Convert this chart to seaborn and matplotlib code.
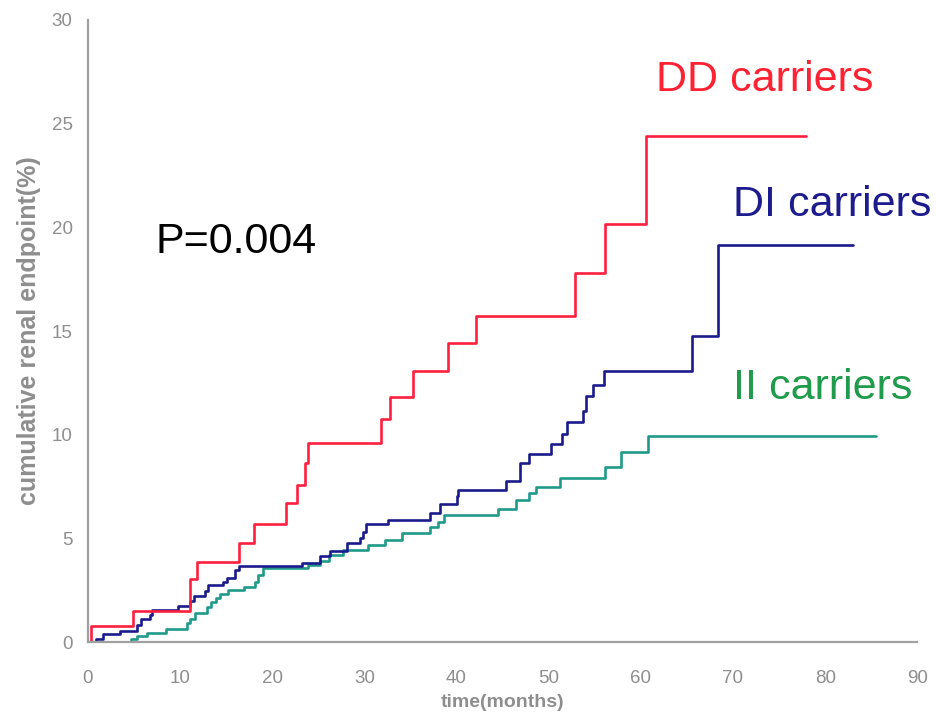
import matplotlib
matplotlib.use("Agg")
import matplotlib.pyplot as plt
import numpy as np
import pandas as pd
import seaborn as sns

# Cumulative incidence of the renal endpoint (%) by ACE genotype, step times in months
dd_time = [0, 0.3, 4.9, 11.1, 11.8, 16.4, 18.0, 21.5, 22.7, 23.5, 23.9, 31.8, 32.8,
           35.3, 39.1, 42.1, 52.8, 56.1, 60.6]
dd_value = [0, 0.75, 1.51, 3.05, 3.87, 4.79, 5.68, 6.69, 7.57, 8.62, 9.58, 10.74,
            11.83, 13.06, 14.41, 15.74, 17.79, 20.15, 24.41]
dd_end = 77.9

di_time = [0, 0.9, 1.6, 3.5, 5.3, 5.8, 6.7, 6.9, 9.8, 11.1, 11.5, 12.7, 13.0, 14.7,
           15.1, 16.0, 16.4, 23.2, 25.2, 26.3, 28.1, 29.5, 29.8, 30.2, 32.6, 37.1,
           38.2, 40.0, 40.2, 45.4, 46.9, 47.9, 50.2, 51.4, 52.0, 53.7, 54.0, 54.8,
           56.0, 65.5, 68.4]
di_value = [0, 0.15, 0.4, 0.55, 0.8, 1.1, 1.3, 1.55, 1.75, 2.0, 2.2, 2.45, 2.75, 2.9,
            3.1, 3.45, 3.68, 3.83, 4.15, 4.38, 4.76, 5.0, 5.32, 5.69, 5.89, 6.24,
            6.66, 7.04, 7.35, 7.78, 8.62, 9.05, 9.55, 10.05, 10.6, 11.16, 11.87, 12.4,
            13.07, 14.76, 19.15]
di_end = 83.0

ii_time = [0, 4.7, 5.3, 6.4, 8.5, 10.7, 11.1, 11.6, 12.9, 13.4, 13.9, 14.3, 15.2,
           16.9, 18.1, 18.5, 19.0, 23.9, 25.2, 26.2, 27.7, 30.4, 32.2, 34.1, 37.1,
           38.0, 38.6, 44.5, 46.5, 47.9, 48.6, 51.2, 56.1, 57.8, 60.8]
ii_value = [0, 0.16, 0.29, 0.45, 0.61, 0.93, 1.09, 1.38, 1.7, 1.95, 2.14, 2.32, 2.51,
            2.67, 2.91, 3.23, 3.55, 3.71, 3.92, 4.2, 4.44, 4.68, 4.92, 5.27, 5.53,
            5.8, 6.13, 6.4, 6.85, 7.2, 7.46, 7.9, 8.45, 9.15, 9.95]
ii_end = 85.5

groups = ["DD carriers", "DI carriers", "II carriers"]
line_colors = {"DD carriers": "#FF2040", "DI carriers": "#1A1A8C", "II carriers": "#1F9A8A"}
text_colors = {"DD carriers": "#FF2233", "DI carriers": "#1C1C8E", "II carriers": "#1F9B4B"}
p_text = "P=0.004"

x_ticks = list(range(0, 91, 10))
y_ticks = list(range(0, 31, 5))


def curve(name, times, values, end):
    # carry the last value flat to the end of follow-up
    t = list(times) + [end]
    v = list(values) + [values[-1]]
    return pd.DataFrame({"group": name, "time": t, "value": v})


df = pd.concat([
    curve("DD carriers", dd_time, dd_value, dd_end),
    curve("DI carriers", di_time, di_value, di_end),
    curve("II carriers", ii_time, ii_value, ii_end),
], ignore_index=True)

sns.set_style("white")
plt.rcParams["font.family"] = ["Liberation Sans", "DejaVu Sans"]

fig = plt.figure(figsize=(9.36, 7.14), dpi=100)
ax = fig.add_axes([0.094, 0.1008, 0.886, 0.8712])

# draw in reverse so the red curve sits on top
for g in groups[::-1]:
    sns.lineplot(data=df[df["group"] == g], x="time", y="value", color=line_colors[g],
                 estimator=None, sort=False, drawstyle="steps-post", linewidth=1.9,
                 ax=ax, legend=False)

ax.set_xlim(0, 90)
ax.set_ylim(0, 30)
ax.set_xticks(x_ticks)
ax.set_yticks(y_ticks)

grey = "#8E8E8E"
for side in ["top", "right"]:
    ax.spines[side].set_visible(False)
for side in ["left", "bottom"]:
    ax.spines[side].set_color("#A0A0A0")
    ax.spines[side].set_linewidth(1.6)
ax.tick_params(axis="both", direction="out", length=6, width=1.4, color="#A0A0A0",
               labelcolor=grey, labelsize=13.5)
ax.tick_params(axis="y", pad=5)
ax.tick_params(axis="x", pad=14)

ax.set_xlabel("time(months)", fontsize=14, fontweight="bold", color=grey, labelpad=5)
ax.set_ylabel("cumulative renal endpoint(%)", fontsize=18, fontweight="bold",
              color=grey, labelpad=8)

# group labels and test statistic
label_pos = {"DD carriers": (61.6, 27.1), "DI carriers": (70.0, 21.1),
             "II carriers": (70.0, 12.25)}
for g in groups:
    x, y = label_pos[g]
    ax.text(x, y, g, color=text_colors[g], fontsize=31, ha="left", va="center")
ax.text(7.3, 19.3, p_text, color="black", fontsize=31, ha="left", va="center")

fig.savefig("out.png", dpi=100)
